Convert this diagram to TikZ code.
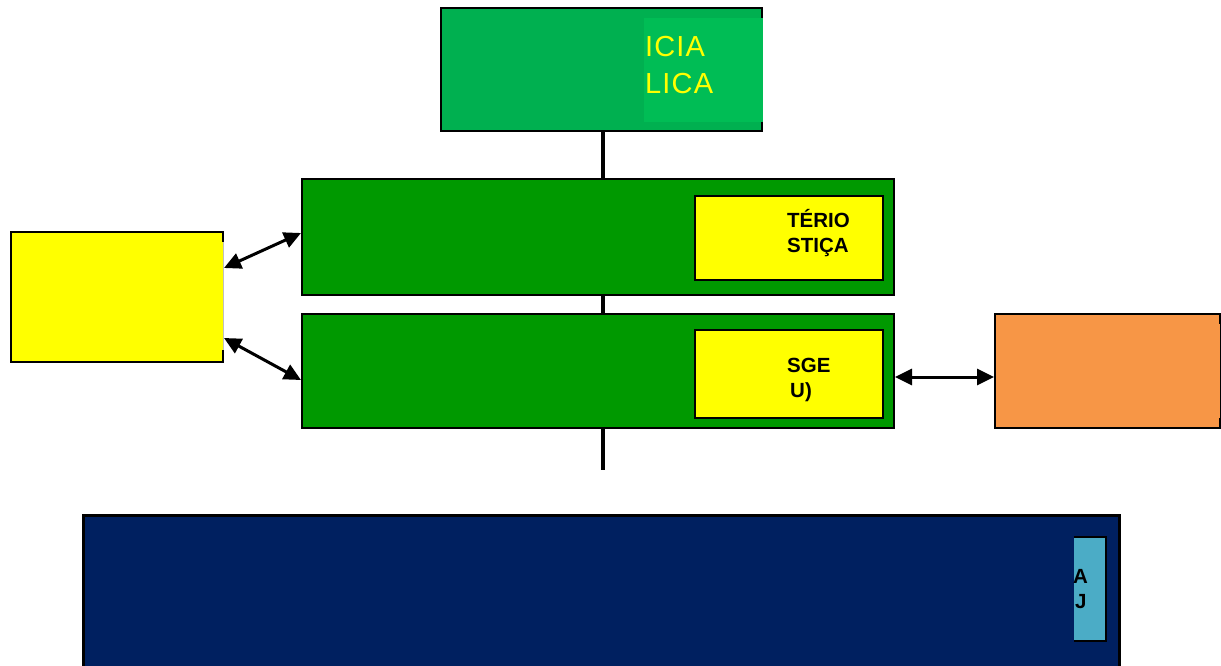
\documentclass[tikz,border=0pt]{standalone}
\usepackage{fontspec}
\setmainfont{Liberation Sans}
\usetikzlibrary{arrows.meta}
\definecolor{topgreen}{HTML}{00B050}
\definecolor{topgreenL}{HTML}{00BD55}
\definecolor{midgreen}{HTML}{009900}
\definecolor{yel}{HTML}{FFFF00}
\definecolor{orng}{HTML}{F79646}
\definecolor{navy}{HTML}{002060}
\definecolor{lblue}{HTML}{4BACC6}
\tikzset{
  box/.style={draw=black, line width=2pt, rectangle, inner sep=0pt},
  patch/.style={draw=none, rectangle, inner sep=0pt},
  link/.style={line width=4pt, line cap=butt},
  dblarrow/.style={line width=3pt, {Triangle[length=17pt,width=16pt]}-{Triangle[length=17pt,width=16pt]}},
  ytext/.style={anchor=base west, inner sep=0pt, text=yel, font=\fontsize{29}{29}\selectfont\addfontfeature{LetterSpace=4}},
  btext/.style={anchor=base west, inner sep=0pt, text=black, font=\fontsize{20.5}{20.5}\selectfont\bfseries},
}
\begin{document}
\begin{tikzpicture}[x=1pt, y=-1pt]
\useasboundingbox (0,0) rectangle (1221,666);
\fill[white] (0,0) rectangle (1221,666);

% top box
\node[box, fill=topgreen, minimum width=321pt, minimum height=123pt] (top) at (601.5,69.5) {};
\node[patch, fill=topgreenL, minimum width=119pt, minimum height=104pt] (toppatch) at (703.5,70) {};
\node[ytext] (t1) at (645,57) {ICIA};
\node[ytext] (t2) at (645,94) {LICA};

% green boxes
\node[box, fill=midgreen, minimum width=592pt, minimum height=116pt] (g1) at (598,237) {};
\node[box, fill=yel, minimum width=188pt, minimum height=84pt] (y1) at (789,238) {};
\node[btext] (y1a) at (787,227) {TÉRIO};
\node[btext] (y1b) at (787,252) {STIÇA};

\node[box, fill=midgreen, minimum width=592pt, minimum height=114pt] (g2) at (598,371) {};
\node[box, fill=yel, minimum width=188pt, minimum height=88pt] (y2) at (789,374) {};
\node[btext] (y2a) at (787,372) {SGE};
\node[btext] (y2b) at (790,397) {U)};

% vertical links
\coordinate (vx) at (603,0);
\coordinate (vend) at (603,470);
\draw[link] (top.south -| vx) -- (g1.north -| vx);
\draw[link] (g1.south -| vx) -- (g2.north -| vx);
\draw[link] (g2.south -| vx) -- (vend);

% left yellow box
\node[box, fill=yel, minimum width=212pt, minimum height=130pt] (ly) at (117,297) {};
\node[patch, fill=yel, minimum width=4pt, minimum height=108pt] (lypatch) at (221,296) {};
\draw[black!25, line width=1pt] (lypatch.north east) -- (lypatch.south east);

% right orange box
\node[box, fill=orng, minimum width=225pt, minimum height=114pt] (orb) at (1107.5,371) {};
\node[patch, fill=orng, minimum width=4pt, minimum height=94pt] (orpatch) at (1218,371) {};

% arrows
\draw[dblarrow] ([yshift=29pt]ly.east) -- ([yshift=4pt]g1.west);
\draw[dblarrow] ([yshift=-41pt]ly.east) -- ([yshift=-9pt]g2.west);
\draw[dblarrow] ([yshift=-6pt]g2.east) -- ([yshift=-6pt]orb.west);

% bottom navy box
\node[box, fill=navy, line width=3pt, minimum width=1036pt, minimum height=160pt] (nb) at (601,595) {};
\node[patch, fill=lblue, minimum width=32pt, minimum height=104pt] (lb) at (1090,589) {};
\draw[line width=2pt] (lb.north west) -- (lb.north east) -- (lb.south east) -- (lb.south west);
\node[btext] (nba) at (1073,583) {A};
\node[btext] (nbb) at (1075,608) {J};
\end{tikzpicture}
\end{document}
